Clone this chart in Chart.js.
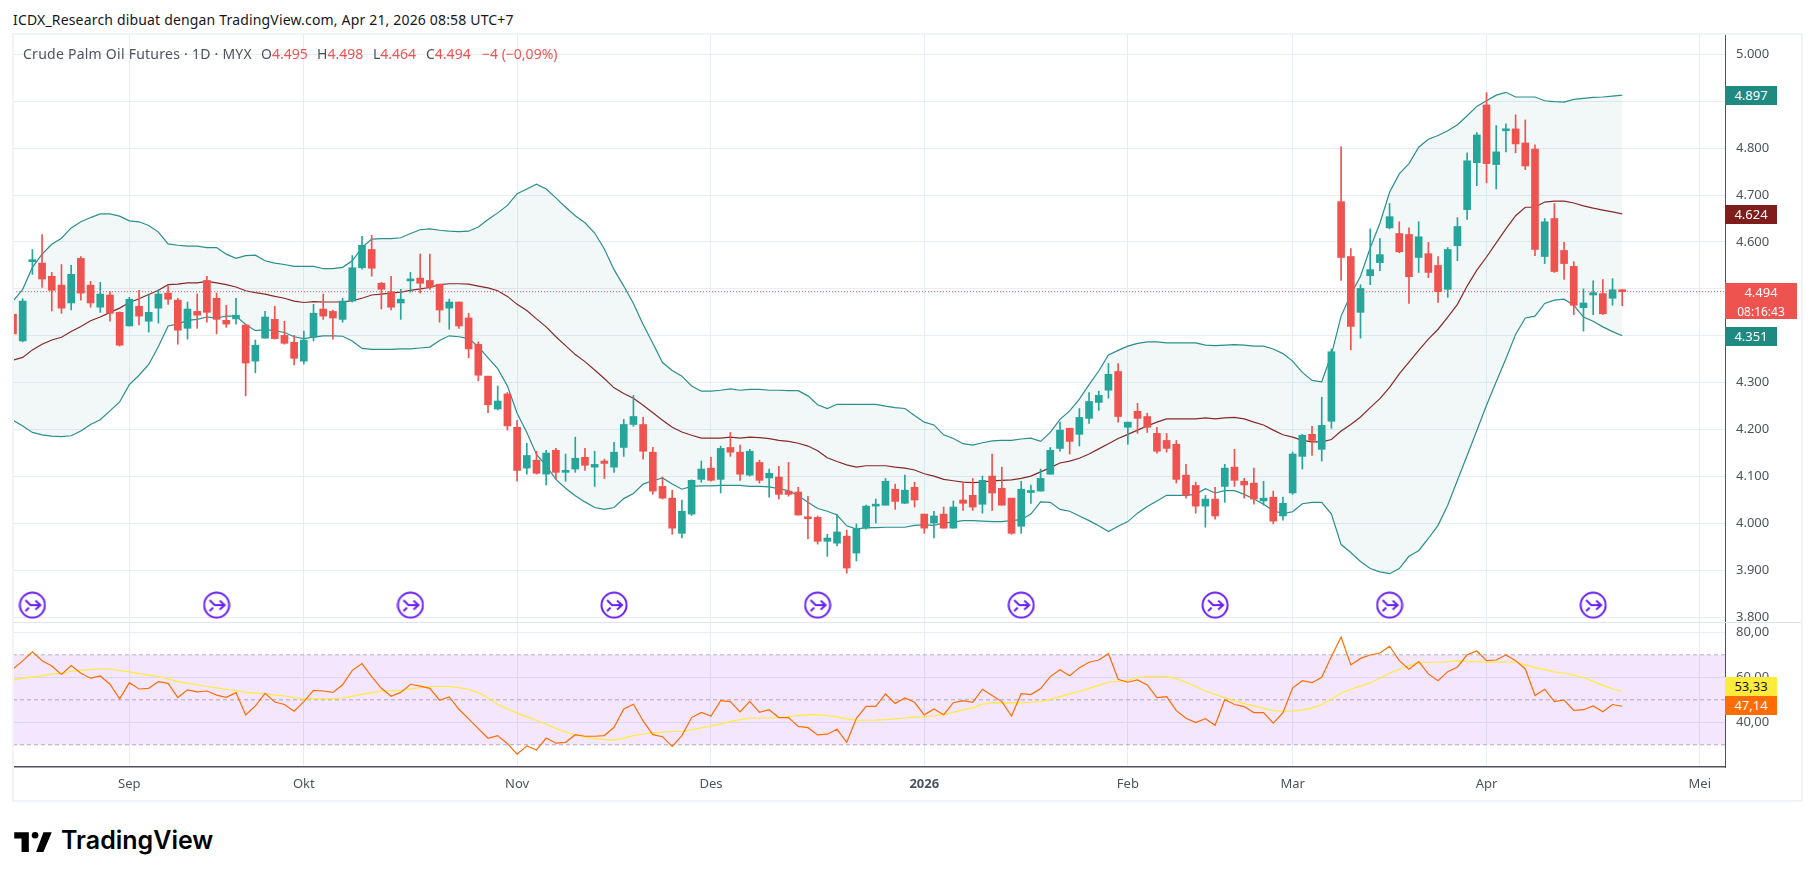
<!DOCTYPE html>
<html>
<head>
<meta charset="utf-8">
<title>Crude Palm Oil Futures</title>
<script src="https://cdn.jsdelivr.net/npm/chart.js@4"></script>
<style>
  html, body { margin: 0; padding: 0; background: #fff; width: 1814px; height: 877px; overflow: hidden; }
  body { position: relative; font-family: "Noto Sans", sans-serif; }
  canvas { position: absolute; }
  .txt { position: absolute; white-space: nowrap; }
  .frame { position: absolute; background: #f0f3fa; }
  .tag { position: absolute; left: 1725px; width: 52px; color: #fff; font-size: 13px; text-align: center; line-height: 19px; height: 19px; }
  .legend { position: absolute; top: 44px; white-space: nowrap; font-size: 14px; color: #50535e; }
  .legend b { font-weight: 400; color: #ef5350; }
</style>
</head>
<body>
<div class="txt" style="left:13px;top:10px;font-size:14px;color:#131722;letter-spacing:0.17px">ICDX_Research dibuat dengan TradingView.com, Apr 21, 2026 08:58 UTC+7</div>

<canvas id="priceChart" width="1788" height="589" style="left:13px;top:33px"></canvas>
<canvas id="rsiChart" width="1788" height="178" style="left:13px;top:622px"></canvas>

<div class="frame" style="left:12px;top:33px;width:1791px;height:2px"></div>
<div class="frame" style="left:12px;top:33px;width:2px;height:769px"></div>
<div class="frame" style="left:1801px;top:33px;width:2px;height:769px"></div>
<div class="frame" style="left:12px;top:800px;width:1791px;height:2px"></div>
<div style="position:absolute;left:13px;top:622px;width:1788px;height:1px;background:#e0e3eb"></div>

<div class="legend" style="left:23px;letter-spacing:0.25px">Crude Palm Oil Futures · 1D · MYX</div>
<div class="legend" style="left:261px">O<b>4.495</b></div>
<div class="legend" style="left:317px">H<b>4.498</b></div>
<div class="legend" style="left:373px">L<b>4.464</b></div>
<div class="legend" style="left:426px">C<b>4.494</b></div>
<div class="legend" style="left:482px"><b>−4 (−0,09%)</b></div>

<svg style="position:absolute;left:14px;top:829px" width="38" height="25" viewBox="0 0 36 24">
  <path fill="#000" d="M14 3H0v6h7v13h7V3Zm14 19h-7l7-19h8l-8 19Z"/><circle cx="20" cy="6" r="3.2" fill="#000"/>
</svg>
<div class="txt" style="left:61px;top:825px;font-family:Inter,sans-serif;font-size:25px;font-weight:600;color:#000">TradingView</div>

<script>
const opens = [
  4446,4389,4558,4555,4527,4508,4470,4565,4508,4461, 4487,4450,4421,4463,4431,4459,4491,4476,4416,4452,
  4518,4480,4433,4436,4423,4346,4395,4435,4401,4386, 4346,4397,4457,4452,4435,4474,4545,4584,4512,4494,
  4470,4517,4523,4518,4510,4459,4472,4438,4382,4314, 4244,4276,4205,4118,4135,4105,4156,4109,4116,4141,
  4120,4133,4120,4162,4211,4211,4152,4079,4054,3979, 4020,4094,4118,4094,4162,4152,4103,4130,4097,4099,
  4069,4067,4012,4013,3962,3958,3973,3937,3990,4037, 4039,4073,4043,4077,4020,4001,4020,3990,4050,4060,
  4041,4101,4075,4054,3994,4066,4069,4105,4160,4203, 4190,4224,4258,4284,4324,4205,4239,4228,4192,4177,
  4169,4103,4081,4037,4052,4079,4120,4090,4086,4048, 4056,4016,4065,4143,4190,4158,4218,4686,4569,4450,
  4528,4556,4630,4618,4616,4567,4575,4550,4499,4592, 4669,4769,4892,4765,4837,4841,4811,4798,4569,4650,
  4582,4548,4460,4487,4490,4480,4495
];
const highs = [
  4460,4479,4584,4616,4535,4552,4550,4569,4516,4514, 4494,4451,4482,4497,4487,4498,4506,4480,4472,4489,
  4527,4491,4465,4480,4423,4391,4452,4463,4431,4401, 4410,4467,4489,4455,4480,4571,4612,4614,4514,4527,
  4499,4535,4574,4574,4510,4478,4472,4448,4387,4314, 4293,4279,4220,4171,4154,4156,4160,4148,4184,4160,
  4154,4137,4173,4222,4273,4226,4162,4099,4071,4050, 4093,4133,4141,4165,4194,4167,4158,4135,4116,4122,
  4130,4077,4058,4016,3977,4020,3986,3999,4039,4052, 4096,4084,4103,4088,4020,4026,4035,4048,4088,4096,
  4101,4148,4120,4054,4090,4082,4116,4162,4216,4203, 4245,4279,4282,4341,4341,4216,4256,4235,4205,4192,
  4177,4126,4088,4060,4077,4126,4158,4096,4118,4090, 4069,4056,4152,4190,4207,4269,4372,4803,4586,4509,
  4628,4607,4682,4643,4630,4643,4599,4569,4588,4652, 4790,4833,4918,4848,4852,4871,4860,4807,4650,4682,
  4599,4558,4500,4517,4520,4522,4498
];
const lows = [
  4400,4387,4531,4503,4453,4448,4455,4476,4461,4450, 4431,4378,4421,4423,4408,4427,4467,4382,4393,4416,
  4429,4404,4418,4425,4272,4321,4395,4393,4382,4338, 4340,4389,4435,4393,4429,4472,4542,4527,4457,4455,
  4435,4493,4491,4499,4429,4414,4416,4353,4304,4236, 4242,4199,4090,4105,4105,4082,4094,4090,4109,4113,
  4079,4096,4109,4143,4207,4137,4062,4052,3977,3969, 4017,4088,4090,4065,4143,4092,4101,4086,4056,4052,
  4058,4018,3967,3956,3930,3952,3894,3920,3988,4001, 4039,4030,4043,4035,3979,3969,3990,3990,4028,4028,
  4022,4028,4039,3977,3979,4043,4069,4105,4154,4148, 4165,4213,4241,4267,4216,4169,4192,4194,4150,4152,
  4086,4054,4022,3992,4009,4045,4079,4054,4041,4039, 3999,4007,4062,4116,4145,4133,4203,4518,4370,4395,
  4509,4539,4628,4577,4469,4535,4524,4471,4482,4560, 4648,4720,4726,4713,4792,4790,4754,4571,4554,4535,
  4520,4445,4410,4445,4445,4465,4464
];
const closes = [
  4404,4474,4560,4521,4497,4459,4531,4491,4470,4489, 4448,4380,4478,4442,4450,4489,4478,4412,4457,4444,
  4450,4435,4425,4444,4342,4380,4440,4394,4384,4352, 4391,4448,4442,4438,4474,4545,4593,4544,4499,4461,
  4478,4520,4512,4504,4455,4472,4421,4372,4316,4253, 4261,4208,4113,4145,4107,4150,4109,4113,4139,4124,
  4126,4128,4152,4211,4228,4154,4069,4054,3990,4026, 4092,4116,4092,4160,4152,4105,4154,4092,4107,4062,
  4062,4018,4010,3962,3969,3982,3905,3988,4037,4039, 4090,4047,4071,4050,3990,4016,3990,4035,4043,4035,
  4092,4065,4039,3979,4073,4068,4096,4156,4199,4175, 4226,4260,4273,4318,4228,4216,4224,4205,4154,4160,
  4094,4060,4037,4052,4016,4118,4092,4082,4052,4054, 4005,4043,4148,4188,4177,4209,4366,4567,4420,4501,
  4541,4573,4654,4579,4526,4611,4535,4494,4584,4633, 4773,4828,4767,4792,4839,4809,4762,4584,4643,4537,
  4554,4465,4470,4492,4447,4498,4494
];

const bbUpper = [
  4474,4499,4546,4574,4595,4608,4630,4643,4652,4660, 4660,4655,4645,4643,4635,4621,4596,4593,4591,4591,
  4588,4588,4574,4565,4571,4572,4560,4555,4552,4548, 4548,4548,4543,4543,4546,4560,4588,4606,4607,4607,
  4609,4618,4626,4628,4625,4623,4622,4623,4632,4648, 4662,4678,4703,4713,4723,4713,4694,4674,4656,4641,
  4619,4585,4541,4506,4469,4424,4384,4343,4326,4314, 4293,4282,4282,4284,4287,4284,4286,4286,4284,4284,
  4283,4283,4272,4253,4245,4254,4254,4254,4254,4254, 4250,4247,4245,4230,4216,4210,4189,4181,4170,4167,
  4172,4176,4177,4177,4180,4182,4175,4194,4222,4240, 4265,4296,4325,4359,4369,4378,4384,4387,4387,4385,
  4385,4385,4385,4380,4379,4380,4381,4380,4378,4378, 4372,4362,4346,4322,4305,4302,4360,4442,4488,4527,
  4587,4640,4706,4745,4767,4802,4819,4827,4837,4850, 4869,4889,4901,4913,4919,4909,4909,4909,4901,4899,
  4898,4904,4906,4908,4909,4911,4913
];
const bbBasis = [
  4348,4354,4370,4382,4391,4397,4409,4420,4432,4440, 4450,4459,4471,4479,4488,4497,4509,4510,4513,4513,
  4516,4513,4509,4504,4496,4492,4489,4484,4480,4474, 4471,4473,4472,4472,4472,4475,4480,4487,4489,4491,
  4493,4497,4500,4503,4509,4511,4511,4510,4506,4502, 4496,4484,4467,4454,4436,4419,4398,4379,4360,4345,
  4327,4309,4289,4277,4267,4252,4236,4220,4205,4195, 4188,4182,4182,4182,4184,4182,4184,4183,4181,4177,
  4175,4171,4165,4155,4140,4132,4125,4120,4123,4123, 4123,4120,4118,4114,4106,4101,4094,4091,4088,4087,
  4088,4091,4092,4093,4096,4101,4110,4119,4129,4133, 4139,4148,4159,4170,4181,4190,4199,4208,4216,4223,
  4223,4223,4223,4225,4223,4225,4226,4223,4216,4210, 4199,4189,4184,4177,4174,4174,4179,4197,4211,4227,
  4247,4266,4290,4319,4344,4369,4393,4414,4440,4467, 4506,4540,4568,4598,4628,4656,4674,4674,4685,4687,
  4687,4683,4677,4672,4668,4664,4660
];
const bbLower = [
  4220,4208,4194,4189,4186,4185,4187,4197,4211,4221, 4240,4259,4296,4316,4339,4377,4421,4425,4433,4435,
  4440,4438,4442,4442,4424,4411,4413,4411,4407,4398, 4394,4397,4400,4400,4399,4389,4373,4371,4371,4371,
  4372,4372,4374,4376,4390,4400,4398,4394,4377,4353, 4330,4293,4235,4194,4147,4123,4094,4075,4059,4046,
  4034,4030,4034,4053,4064,4084,4091,4097,4084,4073, 4079,4080,4080,4081,4081,4081,4079,4079,4078,4074,
  4070,4059,4045,4032,4026,4018,3995,3988,3991,3991, 3992,3992,3992,3996,3997,3996,4001,4003,4006,4006,
  4005,4004,4004,4006,4008,4020,4046,4045,4030,4026, 4016,4006,3995,3983,3994,4004,4022,4036,4048,4060,
  4060,4060,4062,4074,4065,4070,4070,4062,4052,4041, 4027,4021,4025,4042,4045,4045,4020,3955,3938,3919,
  3904,3897,3893,3904,3930,3942,3968,3996,4039,4092, 4145,4198,4252,4302,4351,4403,4438,4442,4469,4476,
  4478,4465,4440,4431,4419,4409,4400
];

const rsiValues = [
  63.7,67.3,71.3,67.4,65,61.3,65.2,61.8,59.6,60.6, 56.9,50.4,57.6,54.8,55.1,58.1,57.3,51,54.4,53.5,
  53.9,52.1,51.1,53.2,43.3,47.3,52.9,49,47.9,44.9, 49.2,54.2,53.9,53.3,56.7,63.1,66.1,60.3,55.1,51.6,
  53.3,56.9,56.1,55.1,49.8,51.3,45.8,41.5,37.2,32.9, 34.1,30.5,25.8,29.5,27.7,33,30.7,31.1,34.5,33.8,
  33.8,34.1,37.8,45.9,48,40.6,34.5,33.6,29.3,34.1, 42.1,44.4,42.8,49.6,49.2,44.6,49.3,44.4,45.6,42.1,
  42.1,38.2,37.6,34.4,34.7,36.9,31.1,41.8,47.1,47.1, 52.6,48.4,50.8,48.9,43.3,45.9,43.4,48.7,49.6,48.9,
  54.7,51.9,49.2,42.8,52.7,52.3,55,60.3,63.4,60.7, 64.3,66.7,67.7,70.5,59.1,57.8,58.8,56.6,51,51.4,
  45.2,41.8,39.9,41.6,38.7,50.1,47.9,47,44.3,44.3, 39.6,44.3,55.3,58.5,57.6,60,69.2,77.9,65.5,68.4,
  69.9,70.8,73.8,67.4,63.6,67,61.5,58.5,62.5,64.6, 70,71.7,67.4,67.7,69.9,67.4,63.7,51.9,54.7,49.2,
  49.9,45.3,45.6,47.3,44.7,47.9,47.14
];
const rsiMa = [
  58.7,59.6,60.1,60.6,61.5,61.8,62.7,63.1,63.4,63.7, 63.7,63,62.4,61.6,61,60.3,59.3,58.1,57.3,56.7,
  55.9,55.3,54.7,54.1,53.3,53,52.7,52.1,51.7,51, 50.4,50.5,50.5,50.5,50.8,51.6,52.4,53.2,53.8,54.1,
  54.1,54.8,55.4,55.9,55.9,55.9,55.4,54.7,53.2,50.8, 48,45.9,44.1,42.5,40.9,39.1,37.3,35.7,34.4,33.5,
  32.7,32.3,32.1,33,34.1,34.8,35.4,35.6,35.9,35.9, 36.7,37.5,38.4,39.3,40.3,41.2,41.9,41.9,41.9,42.1,
  42.5,43.1,43.4,43.3,43,42.4,41.5,40.9,40.9,41, 41.2,41.5,41.9,42.4,42.5,42.8,43.4,44.4,45.5,46.4,
  48.1,48.6,48.7,48.6,48.6,48.9,49.2,50.2,51.4,52.6, 53.8,55.1,56.4,57.9,58.2,58.7,59.9,60.4,60.4,60.3,
  59.4,57.8,55.9,53.9,52.4,51,49.5,48.3,47.3,46.2, 45.2,44.9,45,45.5,46.4,47.9,50.2,52.9,54.7,56.1,
  57.6,59.6,61.8,63.6,65.2,66.5,66.7,66.7,67,67.3, 67,67,66.7,66.8,66.8,66.7,65.5,64.3,63.4,62.4,
  61.8,61,59.9,58.2,56.4,54.9,53.8
];

// month marks on the bar index axis
const monthBars = [12, 30, 52, 72, 94, 115, 132, 152, 174];
const monthLabels = ['Sep', 'Okt', 'Nov', 'Des', '2026', 'Feb', 'Mar', 'Apr', 'Mei'];
const priceTicks = [3800, 3900, 4000, 4100, 4200, 4300, 4400, 4500, 4600, 4700, 4800, 4900, 5000];
const rsiTicks = [40, 60, 80];
const rsiLevels = [70, 50, 30];
const rolloverBars = [2, 21, 41, 62, 83, 104, 124, 142, 163];
const rolloverLevel = 3826;
const barCount = closes.length;
const axisEnd = 176.6;

const UP = '#26a69a', DOWN = '#ef5350', GRID = '#e6edf3', TEXT = '#4c525e', AXIS_LINE = '#50535e';
const BAND_LINE = '#2a8e8e', BASIS_LINE = '#862a2a';
const candleColors = closes.map((c, i) => c >= opens[i] ? UP : DOWN);
const pts = arr => arr.map((y, x) => ({ x, y }));
const flatLine = v => [{ x: 0, y: v }, { x: axisEnd, y: v }];

function rolloverIcon() {
  const c = document.createElement('canvas');
  c.width = c.height = 28;
  const g = c.getContext('2d');
  g.strokeStyle = '#6a1ff5';
  g.lineWidth = 2;
  g.beginPath(); g.arc(14, 14, 12.5, 0, Math.PI * 2); g.stroke();
  g.beginPath();
  g.moveTo(7, 9); g.lineTo(12, 14); g.lineTo(22, 14);
  g.moveTo(17, 9.5); g.lineTo(22, 14); g.lineTo(17, 18.5);
  g.moveTo(7, 20); g.lineTo(10.5, 16.5);
  g.stroke();
  return c;
}

const monthAxisTicks = scale => { scale.ticks = monthBars.map(value => ({ value })); };
// keep the plot flush with the canvas: no room kept for half labels
const noPadding = s => { s.paddingTop = s.paddingBottom = s.paddingLeft = s.paddingRight = 0; };

Chart.defaults.font.family = '"Noto Sans", sans-serif';
Chart.defaults.font.size = 13;
Chart.defaults.animation = false;
Chart.defaults.devicePixelRatio = 1;

const priceChart = new Chart(document.getElementById('priceChart'), {
  data: {
    datasets: [
      { type: 'line', data: pts(bbUpper), borderColor: BAND_LINE, borderWidth: 1.2, pointRadius: 0, order: 6, fill: false },
      { type: 'line', data: pts(bbBasis), borderColor: BASIS_LINE, borderWidth: 1.2, pointRadius: 0, order: 5, fill: false },
      { type: 'line', data: pts(bbLower), borderColor: BAND_LINE, borderWidth: 1.2, pointRadius: 0, order: 6,
        fill: { target: 0, above: 'rgba(42,142,142,0.06)', below: 'rgba(42,142,142,0.06)' } },
      { type: 'bar', data: closes.map((c, i) => ({ x: i, y: [lows[i], highs[i]] })), backgroundColor: candleColors,
        barThickness: 1, grouped: false, order: 3 },
      { type: 'bar', data: closes.map((c, i) => ({ x: i, y: [opens[i], c] })), backgroundColor: candleColors,
        barThickness: 7, minBarLength: 2, grouped: false, order: 2 },
      { type: 'line', data: flatLine(closes[barCount - 1]), borderColor: DOWN, borderWidth: 1, borderDash: [1, 2],
        pointRadius: 0, order: 1, fill: false },
      { type: 'scatter', data: rolloverBars.map(x => ({ x, y: rolloverLevel })), pointStyle: rolloverIcon(), order: 0 }
    ]
  },
  options: {
    responsive: false,
    layout: { padding: 0, autoPadding: false },
    plugins: { legend: { display: false }, tooltip: { enabled: false } },
    scales: {
      x: {
        type: 'linear', min: 0, max: axisEnd, offset: false,
        afterBuildTicks: monthAxisTicks,
        afterFit: s => { s.height = 0; noPadding(s); },
        ticks: { display: false },
        grid: { color: GRID, drawTicks: false, offset: false },
        border: { display: false }
      },
      y: {
        position: 'right', min: 3790, max: 5045.4,
        afterBuildTicks: s => { s.ticks = priceTicks.map(value => ({ value })); },
        afterFit: s => { s.width = 76; noPadding(s); },
        ticks: { color: TEXT, padding: 11, callback: v => v.toLocaleString('id-ID') },
        grid: { color: GRID, drawTicks: false },
        border: { display: true, color: AXIS_LINE, width: 1 }
      }
    }
  }
});

const rsiChart = new Chart(document.getElementById('rsiChart'), {
  data: {
    datasets: [
      { type: 'line', data: flatLine(rsiLevels[0]), borderColor: '#b6b2bb', borderWidth: 1, borderDash: [4, 3], pointRadius: 0,
        order: 5, fill: { target: 2, above: 'rgba(145,5,235,0.1)', below: 'rgba(145,5,235,0.1)' } },
      { type: 'line', data: flatLine(rsiLevels[1]), borderColor: '#b6b2bb', borderWidth: 1, borderDash: [4, 3], pointRadius: 0, order: 5, fill: false },
      { type: 'line', data: flatLine(rsiLevels[2]), borderColor: '#b6b2bb', borderWidth: 1, borderDash: [4, 3], pointRadius: 0, order: 5, fill: false },
      { type: 'line', data: pts(rsiMa), borderColor: '#ffeb3b', borderWidth: 1.2, pointRadius: 0, order: 3, fill: false },
      { type: 'line', data: pts(rsiValues), borderColor: '#ff6d00', borderWidth: 1.2, pointRadius: 0, order: 2, fill: false }
    ]
  },
  options: {
    responsive: false,
    layout: { padding: 0, autoPadding: false },
    plugins: { legend: { display: false }, tooltip: { enabled: false } },
    scales: {
      x: {
        type: 'linear', min: 0, max: axisEnd,
        afterBuildTicks: monthAxisTicks,
        afterFit: s => { s.height = 33; noPadding(s); },
        ticks: {
          color: TEXT, padding: 9, autoSkip: false, maxRotation: 0,
          font: ctx => (ctx.tick && ctx.tick.value === 94) ? { weight: 'bold', size: 13 } : { size: 13 },
          callback: (v, i) => monthLabels[i]
        },
        grid: { color: GRID, drawTicks: false },
        border: { display: true, color: AXIS_LINE, width: 1.5 }
      },
      y: {
        position: 'right', min: 20.13, max: 84.58,
        afterBuildTicks: s => { s.ticks = rsiTicks.map(value => ({ value })); },
        afterFit: s => { s.width = 76; noPadding(s); },
        ticks: { color: TEXT, padding: 11, callback: v => v.toFixed(2).replace('.', ',') },
        grid: { color: GRID, drawTicks: false },
        border: { display: true, color: AXIS_LINE, width: 1 }
      }
    }
  }
});

// value tags on the right scale, placed through the scales
function addTag(text, top, bg, color, width, height) {
  const d = document.createElement('div');
  d.className = 'tag';
  d.innerHTML = text;
  d.style.top = Math.round(top) + 'px';
  d.style.background = bg;
  if (color) d.style.color = color;
  if (width) d.style.width = width + 'px';
  if (height) d.style.height = height + 'px';
  document.body.appendChild(d);
}
const pricePx = v => 33 + priceChart.scales.y.getPixelForValue(v);
const rsiPx = v => 622 + rsiChart.scales.y.getPixelForValue(v);
addTag('4.897', pricePx(bbUpper[barCount - 1]) - 9, '#1f8a82');
addTag('4.624', pricePx(bbBasis[barCount - 1]) - 9, '#7f1d1d');
addTag('4.351', pricePx(bbLower[barCount - 1]) - 9, '#1f8a82');
addTag('4.494<br><span style="font-size:12px">08:16:43</span>', pricePx(closes[barCount - 1]) - 9, DOWN, null, 72, 36);
addTag('53,33', rsiPx(rsiMa[barCount - 1]) - 14, '#ffeb3b', '#131722');
addTag('47,14', rsiPx(rsiValues[barCount - 1]) - 10, '#ff6d00');
</script>
</body>
</html>
